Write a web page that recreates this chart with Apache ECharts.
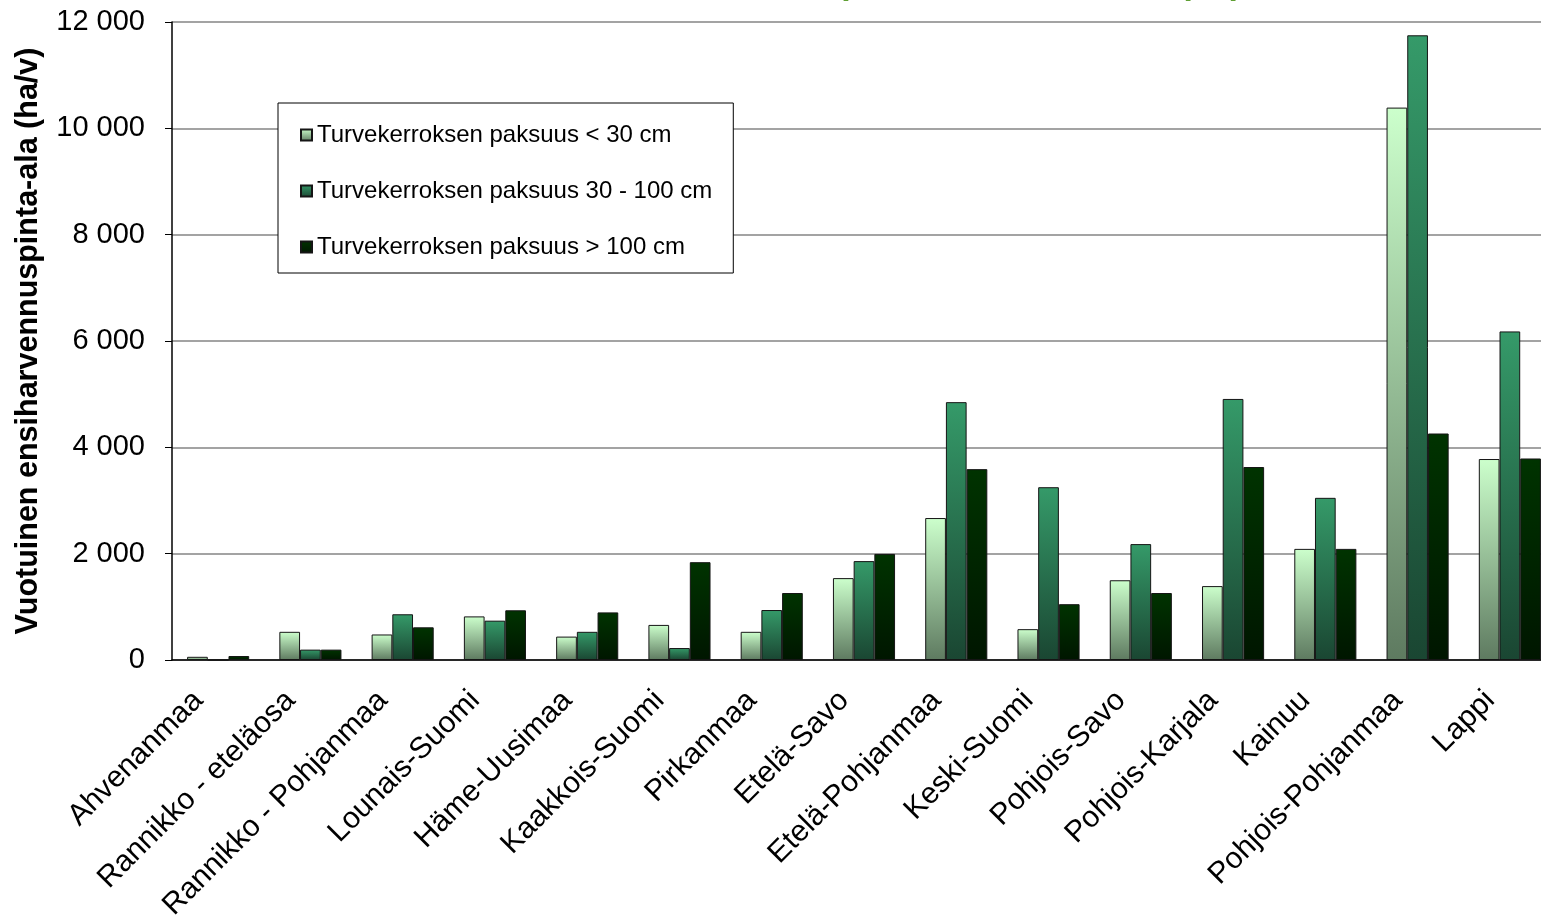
<!DOCTYPE html>
<html>
<head>
<meta charset="utf-8">
<script src="https://cdn.jsdelivr.net/npm/echarts@6/dist/echarts.min.js"></script>
<style>
  html, body { margin: 0; padding: 0; background: #fff; }
  #main { width: 1541px; height: 916px; }
</style>
</head>
<body>
<div id="main"></div>
<script>
var regions = ['Ahvenanmaa', 'Rannikko - eteläosa', 'Rannikko - Pohjanmaa', 'Lounais-Suomi', 'Häme-Uusimaa',
  'Kaakkois-Suomi', 'Pirkanmaa', 'Etelä-Savo', 'Etelä-Pohjanmaa', 'Keski-Suomi', 'Pohjois-Savo',
  'Pohjois-Karjala', 'Kainuu', 'Pohjois-Pohjanmaa', 'Lappi'];
var seriesNames = ['Turvekerroksen paksuus < 30 cm', 'Turvekerroksen paksuus 30 - 100 cm', 'Turvekerroksen paksuus > 100 cm'];
var thin = [60, 530, 480, 820, 440, 660, 530, 1540, 2670, 580, 1500, 1390, 2090, 10390, 3780];
var medium = [0, 195, 860, 740, 530, 225, 940, 1860, 4850, 3250, 2180, 4910, 3050, 11750, 6180];
var thick = [75, 195, 615, 935, 895, 1840, 1260, 1995, 3590, 1050, 1260, 3630, 2090, 4260, 3790];
var titleText = 'Vuotuinen ensiharvennuspinta-ala turvemailla (ha)';

var font = 'Arial, "Liberation Sans", sans-serif';
var chart = echarts.init(document.getElementById('main'));

function grad(top, bottom) {
  return new echarts.graphic.LinearGradient(0, 0, 0, 1, [
    { offset: 0, color: top },
    { offset: 1, color: bottom }
  ]);
}

function bar(name, data, top, bottom) {
  return {
    name: name,
    type: 'bar',
    data: data,
    barWidth: 20.7,
    barGap: '0%',
    itemStyle: { color: grad(top, bottom), borderColor: '#151515', borderWidth: 1 }
  };
}

var option = {
  animation: false,
  backgroundColor: '#fff',
  textStyle: { fontFamily: font },
  // title sits mostly above the picture, only its descenders show
  graphic: [{
    type: 'text',
    x: 427,
    y: -15,
    z: 100,
    style: {
      text: titleText,
      font: 'bold 34px ' + font,
      fill: '#5f9f34',
      verticalAlign: 'middle'
    }
  }],
  legend: {
    orient: 'vertical',
    left: 278,
    top: 103,
    icon: 'rect',
    itemWidth: 11,
    itemHeight: 11,
    itemGap: 32,
    padding: [20, 21, 14, 22],
    backgroundColor: '#fff',
    borderColor: '#000',
    borderWidth: 1,
    textStyle: { fontSize: 24, color: '#000', fontFamily: font },
    data: seriesNames
  },
  grid: { left: 172, width: 1384, top: 22, bottom: 256, outerBoundsMode: 'none' },
  xAxis: {
    type: 'category',
    data: regions,
    axisLine: { lineStyle: { color: '#000', width: 1.5 } },
    axisTick: { length: 8, lineStyle: { color: '#000' } },
    axisLabel: {
      interval: 0,
      rotate: 45,
      margin: 16,
      padding: [0, 28, 0, 0],
      fontSize: 30,
      color: '#000',
      fontFamily: font
    }
  },
  yAxis: {
    type: 'value',
    min: 0,
    max: 12000,
    interval: 2000,
    name: 'Vuotuinen ensiharvennuspinta-ala (ha/v)',
    nameLocation: 'middle',
    nameGap: 128,
    nameTextStyle: { fontSize: 30.5, fontWeight: 'bold', color: '#000', fontFamily: font },
    axisLine: { show: true, lineStyle: { color: '#000', width: 1.5 } },
    axisTick: { show: true, length: 7, lineStyle: { color: '#000' } },
    axisLabel: {
      fontSize: 29,
      color: '#000',
      margin: 27,
      fontFamily: font,
      formatter: function (v) { return String(v).replace(/\B(?=(\d{3})+(?!\d))/g, ' '); }
    },
    splitLine: { lineStyle: { color: '#858585', width: 1.5 } }
  },
  series: [
    bar(seriesNames[0], thin, '#ccffcc', '#5e7a60'),
    bar(seriesNames[1], medium, '#359a69', '#1a4632'),
    bar(seriesNames[2], thick, '#003300', '#001600')
  ]
};
chart.setOption(option);
</script>
</body>
</html>
